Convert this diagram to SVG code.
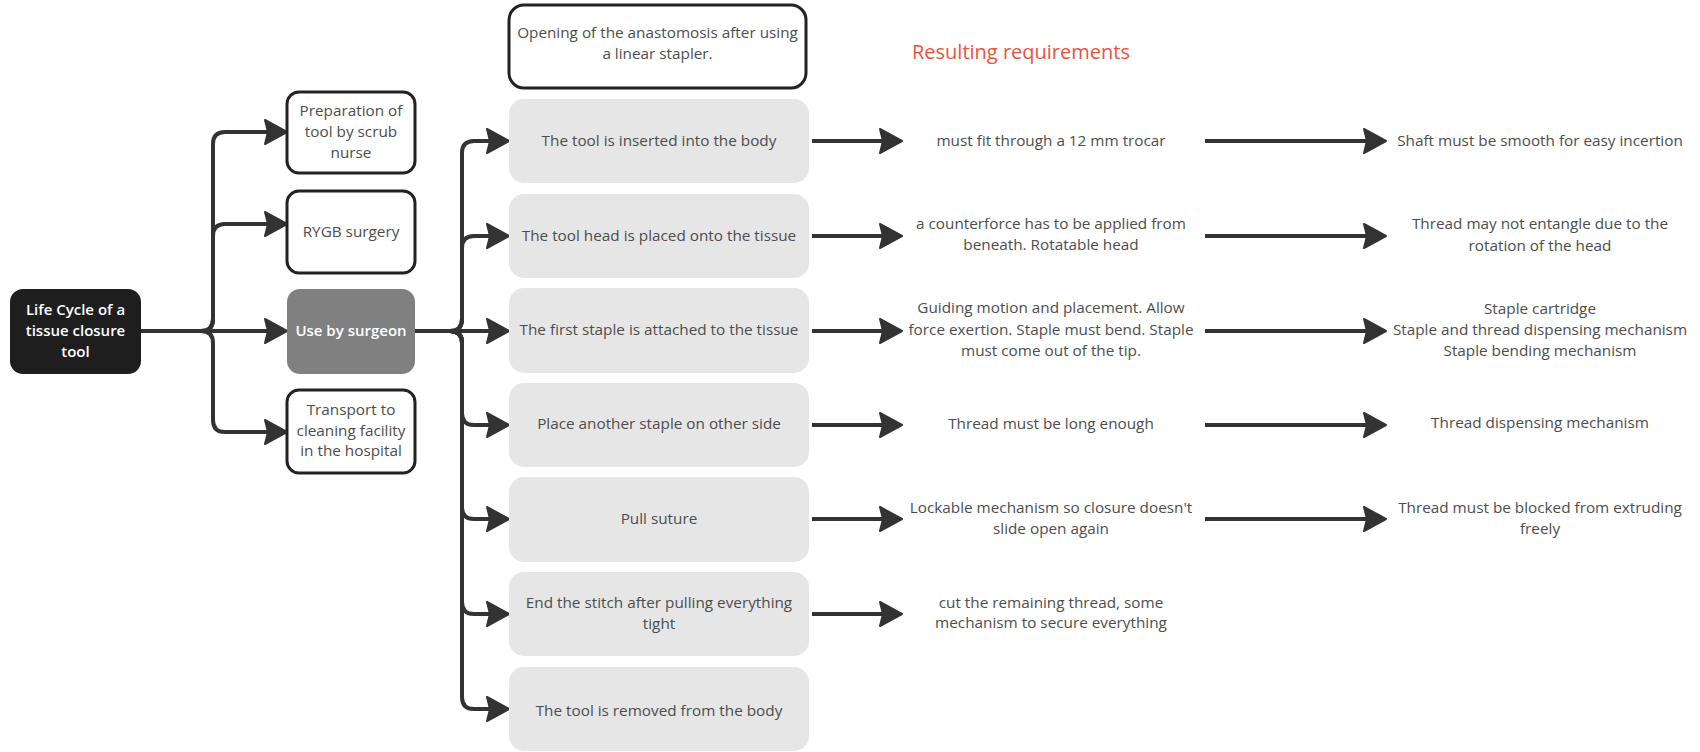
<svg xmlns="http://www.w3.org/2000/svg" width="1700" height="752" viewBox="0 0 1700 752">
  <style>
    text { font-family: "Open Sans", "Noto Sans", "Liberation Sans", sans-serif; font-size: 15.3px; fill: #4d4d4d; text-anchor: middle; }
    .light { fill: #ffffff; font-weight: 600; font-size: 15px; }
    .title { fill: #e8533f; font-size: 20px; text-anchor: start; }
    .outlined { fill: #ffffff; stroke: #222222; stroke-width: 3; }
    .step { fill: #e6e6e6; }
    .conn { fill: none; stroke: #333333; stroke-width: 4; marker-end: url(#arrow); }
  </style>
  <defs>
    <marker id="arrow" viewBox="0 0 26 28" markerWidth="26" markerHeight="28" refX="5" refY="14" orient="auto" markerUnits="userSpaceOnUse">
      <path d="M2,2 L24,14 L2,26 L5,14 Z" fill="#333333" stroke="#333333" stroke-width="2" stroke-linejoin="round"/>
    </marker>
  </defs>
  <rect width="1700" height="752" fill="#ffffff"/>

  <!-- connectors -->
  <g id="connectors">
    <!-- root to life-cycle phases -->
    <path class="conn" d="M141,331 H268"/>
    <path class="conn" d="M141,331 H201 Q213,331 213,319 V144 Q213,132 225,132 H268"/>
    <path class="conn" d="M141,331 H201 Q213,331 213,319 V236 Q213,224 225,224 H268"/>
    <path class="conn" d="M141,331 H201 Q213,331 213,343 V420 Q213,432 225,432 H268"/>
    <!-- surgeon use to steps -->
    <path class="conn" d="M415,331 H490"/>
    <path class="conn" d="M415,331 H450 Q462,331 462,319 V153 Q462,141 474,141 H490"/>
    <path class="conn" d="M415,331 H450 Q462,331 462,319 V248 Q462,236 474,236 H490"/>
    <path class="conn" d="M415,331 H450 Q462,331 462,343 V413 Q462,425 474,425 H490"/>
    <path class="conn" d="M415,331 H450 Q462,331 462,343 V507 Q462,519 474,519 H490"/>
    <path class="conn" d="M415,331 H450 Q462,331 462,343 V602 Q462,614 474,614 H490"/>
    <path class="conn" d="M415,331 H450 Q462,331 462,343 V697 Q462,709 474,709 H490"/>
    <!-- steps to requirements -->
    <path class="conn" d="M812,141 H883"/>
    <path class="conn" d="M812,236 H883"/>
    <path class="conn" d="M812,331 H883"/>
    <path class="conn" d="M812,425 H883"/>
    <path class="conn" d="M812,519 H883"/>
    <path class="conn" d="M812,614 H883"/>
    <!-- requirements to solutions -->
    <path class="conn" d="M1205,141 H1367"/>
    <path class="conn" d="M1205,236 H1367"/>
    <path class="conn" d="M1205,331 H1367"/>
    <path class="conn" d="M1205,425 H1367"/>
    <path class="conn" d="M1205,519 H1367"/>
  </g>

  <!-- root -->
  <g id="root">
    <rect x="10" y="289" width="131" height="85" rx="13" fill="#1e1e1e"/>
    <text class="light" x="75.5" y="315">Life Cycle of a</text>
    <text class="light" x="75.5" y="336">tissue closure</text>
    <text class="light" x="75.5" y="357">tool</text>
  </g>

  <!-- life-cycle phases -->
  <g id="phase-preparation">
    <rect class="outlined" x="287" y="92" width="128" height="81" rx="12"/>
    <text x="351" y="116">Preparation of</text>
    <text x="351" y="137">tool by scrub</text>
    <text x="351" y="158">nurse</text>
  </g>
  <g id="phase-rygb">
    <rect class="outlined" x="287" y="191" width="128" height="82" rx="12"/>
    <text x="351" y="237">RYGB surgery</text>
  </g>
  <g id="phase-surgeon">
    <rect x="287" y="289" width="128" height="85" rx="13" fill="#808080"/>
    <text class="light" x="351" y="336">Use by surgeon</text>
  </g>
  <g id="phase-transport">
    <rect class="outlined" x="287" y="390" width="128" height="83" rx="12"/>
    <text x="351" y="415">Transport to</text>
    <text x="351" y="436">cleaning facility</text>
    <text x="351" y="456">in the hospital</text>
  </g>

  <!-- note box -->
  <g id="note-anastomosis">
    <rect class="outlined" x="509" y="5" width="297" height="83" rx="15"/>
    <text x="657.5" y="38">Opening of the anastomosis after using</text>
    <text x="657.5" y="59">a linear stapler.</text>
  </g>

  <!-- heading -->
  <text class="title" x="912" y="59">Resulting requirements</text>

  <!-- steps of use -->
  <g id="step-insert">
    <rect class="step" x="509" y="99" width="300" height="84" rx="15"/>
    <text x="659" y="146">The tool is inserted into the body</text>
  </g>
  <g id="step-head">
    <rect class="step" x="509" y="194" width="300" height="84" rx="15"/>
    <text x="659" y="241">The tool head is placed onto the tissue</text>
  </g>
  <g id="step-first-staple">
    <rect class="step" x="509" y="288" width="300" height="85" rx="15"/>
    <text x="659" y="335">The first staple is attached to the tissue</text>
  </g>
  <g id="step-second-staple">
    <rect class="step" x="509" y="383" width="300" height="84" rx="15"/>
    <text x="659" y="429">Place another staple on other side</text>
  </g>
  <g id="step-pull">
    <rect class="step" x="509" y="477" width="300" height="85" rx="15"/>
    <text x="659" y="524">Pull suture</text>
  </g>
  <g id="step-end">
    <rect class="step" x="509" y="572" width="300" height="84" rx="15"/>
    <text x="659" y="608">End the stitch after pulling everything</text>
    <text x="659" y="629">tight</text>
  </g>
  <g id="step-remove">
    <rect class="step" x="509" y="667" width="300" height="84" rx="15"/>
    <text x="659" y="716">The tool is removed from the body</text>
  </g>

  <!-- requirements -->
  <g id="req-trocar">
    <text x="1051" y="146">must fit through a 12 mm trocar</text>
  </g>
  <g id="req-counterforce">
    <text x="1051" y="229">a counterforce has to be applied from</text>
    <text x="1051" y="250">beneath. Rotatable head</text>
  </g>
  <g id="req-guiding">
    <text x="1051" y="313">Guiding motion and placement. Allow</text>
    <text x="1051" y="335">force exertion. Staple must bend. Staple</text>
    <text x="1051" y="356">must come out of the tip.</text>
  </g>
  <g id="req-thread-length">
    <text x="1051" y="429">Thread must be long enough</text>
  </g>
  <g id="req-lockable">
    <text x="1051" y="513">Lockable mechanism so closure doesn't</text>
    <text x="1051" y="534">slide open again</text>
  </g>
  <g id="req-cut">
    <text x="1051" y="608">cut the remaining thread, some</text>
    <text x="1051" y="628">mechanism to secure everything</text>
  </g>

  <!-- design consequences -->
  <g id="sol-shaft">
    <text x="1540" y="146">Shaft must be smooth for easy incertion</text>
  </g>
  <g id="sol-entangle">
    <text x="1540" y="229">Thread may not entangle due to the</text>
    <text x="1540" y="251">rotation of the head</text>
  </g>
  <g id="sol-staple">
    <text x="1540" y="314">Staple cartridge</text>
    <text x="1540" y="335">Staple and thread dispensing mechanism</text>
    <text x="1540" y="356">Staple bending mechanism</text>
  </g>
  <g id="sol-dispensing">
    <text x="1540" y="428">Thread dispensing mechanism</text>
  </g>
  <g id="sol-blocked">
    <text x="1540" y="513">Thread must be blocked from extruding</text>
    <text x="1540" y="534">freely</text>
  </g>
</svg>
